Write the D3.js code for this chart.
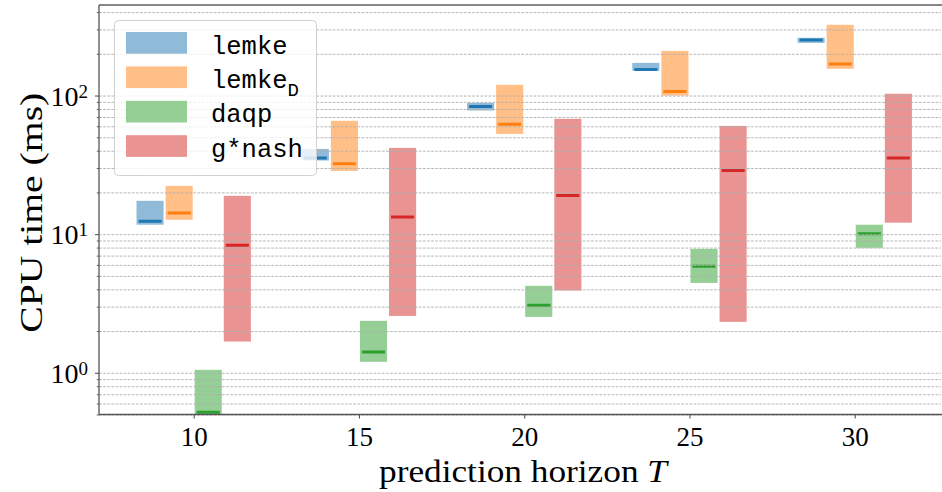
<!DOCTYPE html>
<html>
<head>
<meta charset="utf-8">
<script src="https://cdn.jsdelivr.net/npm/d3@7"></script>
<style>
  html, body { margin: 0; padding: 0; background: #fff; }
  svg { display: block; }
</style>
</head>
<body>
<div id="chart"></div>
<script>
// prediction horizons on the x axis
const horizons = [10, 15, 20, 25, 30];

// CPU time in ms: min / max / median per horizon
const lemkeMin = [11.7, 34.0, 78.0, 151, 240];
const lemkeMax = [17.4, 41.2, 88.6, 172, 261];
const lemkeMed = [12.4, 35.5, 83.3, 154, 252];

const lemkeDMin = [12.7, 28.6, 52.9, 100, 156];
const lemkeDMax = [22.3, 65.7, 119.5, 210, 324];
const lemkeDMed = [14.2, 32.2, 62.2, 107, 169];

const daqpMin = [0.45, 1.20, 2.53, 4.45, 7.97];
const daqpMax = [1.05, 2.37, 4.24, 7.83, 11.7];
const daqpMed = [0.52, 1.41, 3.07, 5.88, 10.05];

const gnashMin = [1.68, 2.57, 3.92, 2.33, 12.1];
const gnashMax = [18.9, 41.9, 67.9, 60.4, 103];
const gnashMed = [8.33, 13.3, 19.0, 28.8, 35.5];

const xTicks = [10, 15, 20, 25, 30];
const yTicks = [1, 10, 100];
const yTickExp = ["0", "1", "2"];

const solvers = [
    {name: "lemke", sub: "", min: lemkeMin, max: lemkeMax, med: lemkeMed, fill: "#8fbbd9", line: "#1f77b4"},
    {name: "lemke", sub: "D", min: lemkeDMin, max: lemkeDMax, med: lemkeDMed, fill: "#ffbf86", line: "#ff7f0e"},
    {name: "daqp", sub: "", min: daqpMin, max: daqpMax, med: daqpMed, fill: "#95cf95", line: "#2ca02c"},
    {name: "g*nash", sub: "", min: gnashMin, max: gnashMax, med: gnashMed, fill: "#ea9393", line: "#d62728"}
];
const offsets = [-1.32, -0.44, 0.44, 1.32];
const barW = 0.82;

const W = 942, H = 492;
const margin = {left: 99, right: 941, top: 5, bottom: 414.5};

const svg = d3.select("#chart").append("svg")
    .attr("width", W)
    .attr("height", H);

const x = d3.scaleLinear().domain([7.135, 32.61]).range([margin.left, margin.right]);
const y = d3.scaleLog().domain([0.5, 450]).range([margin.bottom, margin.top]);

svg.append("defs").append("clipPath").attr("id", "plot")
  .append("rect")
    .attr("x", margin.left).attr("y", margin.top)
    .attr("width", margin.right - margin.left).attr("height", margin.bottom - margin.top);

// bars
const plot = svg.append("g").attr("clip-path", "url(#plot)");
solvers.forEach((s, si) => {
    const g = plot.append("g");
    g.selectAll("rect")
        .data(horizons)
        .enter()
        .append("rect")
        .attr("x", d => x(d + offsets[si] - barW / 2))
        .attr("width", x(barW) - x(0))
        .attr("y", (d, i) => y(s.max[i]))
        .attr("height", (d, i) => y(s.min[i]) - y(s.max[i]))
        .attr("fill", s.fill);
    g.selectAll("line")
        .data(horizons)
        .enter()
        .append("line")
        .attr("x1", d => x(d + offsets[si] - barW / 2) + 2)
        .attr("x2", d => x(d + offsets[si] + barW / 2) - 2)
        .attr("y1", (d, i) => y(s.med[i]))
        .attr("y2", (d, i) => y(s.med[i]))
        .attr("stroke", s.line)
        .attr("stroke-width", 3);
});

// grid (major + minor), drawn over the bars like matplotlib does
const gridVals = [];
[0.1, 1, 10, 100].forEach(dec => {
    for (let k = 1; k <= 9; k++) {
        const v = +(dec * k).toPrecision(3);
        if (v >= 0.5 && v <= 450) gridVals.push(v);
    }
});
svg.append("g")
    .attr("transform", `translate(${margin.left},0)`)
    .call(d3.axisLeft(y).tickValues(gridVals).tickSize(-(margin.right - margin.left)).tickFormat(""))
    .call(g => g.select(".domain").remove())
    .call(g => g.selectAll("line")
        .attr("stroke", "#b0b0b0")
        .attr("stroke-width", 0.9)
        .attr("stroke-dasharray", "2.8,1.3"));

// y ticks
svg.append("g")
    .attr("transform", `translate(${margin.left},0)`)
    .call(d3.axisLeft(y).tickValues(gridVals.filter(v => !yTicks.includes(v))).tickSize(2.2).tickFormat(""))
    .call(g => g.select(".domain").remove())
    .call(g => g.selectAll("line").attr("stroke", "#333").attr("stroke-width", 0.8));

const yAxis = svg.append("g")
    .attr("transform", `translate(${margin.left},0)`)
    .call(d3.axisLeft(y).tickValues(yTicks).tickSize(4).tickFormat(""))
    .call(g => g.select(".domain").remove())
    .call(g => g.selectAll("line").attr("stroke", "#333").attr("stroke-width", 0.9));

yAxis.selectAll(".tick").each(function(d, i) {
    const t = d3.select(this).append("text")
        .attr("x", -11)
        .attr("y", 9.5)
        .attr("text-anchor", "end")
        .attr("fill", "#000")
        .style("font-family", "'Liberation Serif', serif")
        .style("font-size", "28px");
    t.append("tspan").text("10");
    t.append("tspan").attr("dy", -8).style("font-size", "19px").text(yTickExp[i]);
});

// x axis
svg.append("g")
    .attr("transform", `translate(0,${margin.bottom})`)
    .call(d3.axisBottom(x).tickValues(xTicks).tickSize(4).tickFormat(d3.format("d")))
    .call(g => g.select(".domain").remove())
    .call(g => g.selectAll("line").attr("stroke", "#333").attr("stroke-width", 0.9))
    .call(g => g.selectAll("text")
        .attr("y", 7)
        .attr("dy", "0.92em")
        .attr("fill", "#000")
        .style("font-family", "'Liberation Serif', serif")
        .style("font-size", "27px"));

// spines
svg.append("line").attr("x1", margin.left).attr("x2", margin.right + 1).attr("y1", margin.top).attr("y2", margin.top)
    .attr("stroke", "#111").attr("stroke-width", 1);
svg.append("line").attr("x1", margin.left).attr("x2", margin.left).attr("y1", margin.top).attr("y2", margin.bottom)
    .attr("stroke", "#555").attr("stroke-width", 1.3);
svg.append("line").attr("x1", margin.left).attr("x2", margin.right + 1).attr("y1", margin.bottom).attr("y2", margin.bottom)
    .attr("stroke", "#555").attr("stroke-width", 1.3);

// axis titles
const xt = svg.append("text")
    .attr("x", (margin.left + margin.right) / 2 + 3)
    .attr("y", 482)
    .attr("text-anchor", "middle")
    .attr("textLength", 288)
    .attr("lengthAdjust", "spacingAndGlyphs")
    .style("font-family", "'Liberation Serif', serif")
    .style("font-size", "31px");
xt.append("tspan").text("prediction horizon ");
xt.append("tspan").style("font-style", "italic").text("T");

svg.append("text")
    .attr("transform", `translate(42,${(margin.top + margin.bottom) / 2 + 3}) rotate(-90)`)
    .attr("text-anchor", "middle")
    .attr("textLength", 240)
    .attr("lengthAdjust", "spacingAndGlyphs")
    .style("font-family", "'Liberation Serif', serif")
    .style("font-size", "32px")
    .text("CPU time (ms)");

// legend
const legend = svg.append("g");
legend.append("rect")
    .attr("x", 114.5).attr("y", 20.5)
    .attr("width", 202).attr("height", 155)
    .attr("rx", 4)
    .attr("fill", "#fff").attr("fill-opacity", 0.8)
    .attr("stroke", "#d0d0d0").attr("stroke-width", 1);

solvers.forEach((s, i) => {
    const rowY = 32 + i * 34.4;
    legend.append("rect")
        .attr("x", 126).attr("y", rowY)
        .attr("width", 61).attr("height", 21.7)
        .attr("fill", s.fill);
    const t = legend.append("text")
        .attr("x", 211)
        .attr("y", rowY + 21.5)
        .style("font-family", "'Liberation Mono', monospace")
        .style("font-size", "25.5px")
        .text(s.name);
    if (s.sub) {
        t.append("tspan").attr("dy", 8).style("font-size", "19px").text(s.sub);
    }
});
</script>
</body>
</html>
